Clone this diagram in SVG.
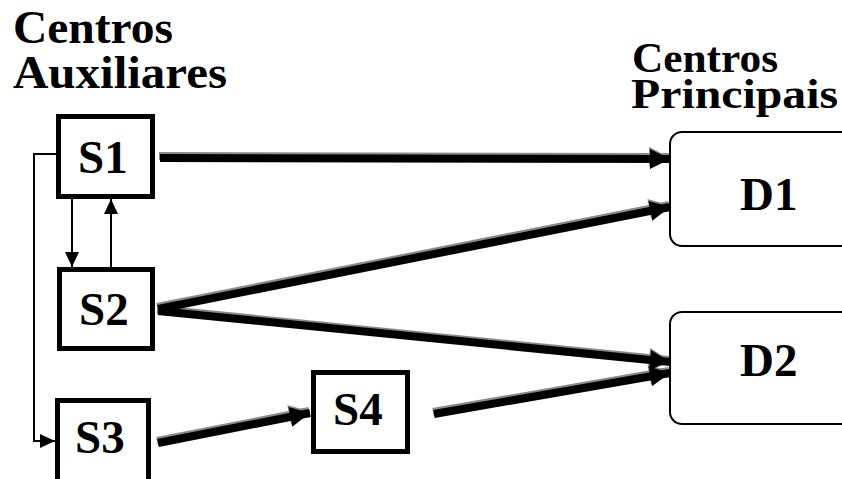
<svg xmlns="http://www.w3.org/2000/svg" width="842" height="479" viewBox="0 0 842 479">
  <style>
    .title { font-family: "Liberation Serif", "Times New Roman", serif; font-weight: bold; font-size: 46px; fill: #000; }
    .title.r { font-size: 43px; }
    .lbl { font-family: "Liberation Serif", "Times New Roman", serif; font-weight: bold; font-size: 47px; fill: #000; }
    .sbox { fill: #fff; stroke: #000; stroke-width: 5; }
    .dbox { fill: #fff; stroke: #000; stroke-width: 2; }
    .thin { fill: none; stroke: #000; stroke-width: 2; }
    .thick { fill: none; stroke: #000; stroke-width: 8; marker-end: url(#headBig); }
    .shadow { fill: none; stroke: #8a8a8a; stroke-width: 8; marker-end: url(#headShadow); }
  </style>
  <defs>
    <marker id="headBig" markerUnits="userSpaceOnUse" markerWidth="22" markerHeight="22" viewBox="0 0 22 22" refX="21" refY="11" orient="auto">
      <path d="M1,1 L21,11 L1,21 Z" fill="#000"/>
    </marker>
    <marker id="headShadow" markerUnits="userSpaceOnUse" markerWidth="22" markerHeight="22" viewBox="0 0 22 22" refX="21" refY="11" orient="auto">
      <path d="M1,1 L21,11 L1,21 Z" fill="#8a8a8a"/>
    </marker>
    <marker id="headSmall" markerUnits="userSpaceOnUse" markerWidth="16" markerHeight="14" viewBox="0 0 16 14" refX="15" refY="7" orient="auto">
      <path d="M0,0 L15,7 L0,14 Z" fill="#000"/>
    </marker>
  </defs>

  <!-- column headings -->
  <text class="title" x="13" y="43" textLength="160" lengthAdjust="spacingAndGlyphs">Centros</text>
  <text class="title" x="13" y="88" textLength="214" lengthAdjust="spacingAndGlyphs">Auxiliares</text>
  <text class="title r" x="632" y="72" textLength="146" lengthAdjust="spacingAndGlyphs">Centros</text>
  <text class="title r" x="631" y="108" textLength="207" lengthAdjust="spacingAndGlyphs">Principais</text>

  <!-- connectors -->
  <g id="connectors">
    <!-- feedback and loop links between auxiliary centres -->
    <path class="thin" d="M56,154 H34 V441 H40" />
    <line class="thin" x1="34" y1="441" x2="55" y2="441" marker-end="url(#headSmall)"/>
    <line class="thin" x1="72" y1="199" x2="72" y2="267" marker-end="url(#headSmall)"/>
    <line class="thin" x1="111" y1="267" x2="111" y2="199" marker-end="url(#headSmall)"/>

    <!-- shaded flow arrows: shadow first, then the black stroke -->
    <g transform="translate(-1,-2)">
      <line class="shadow" x1="160" y1="158" x2="670" y2="159"/>
      <line class="shadow" x1="158" y1="309" x2="670" y2="207"/>
      <line class="shadow" x1="158" y1="311" x2="670" y2="362"/>
      <line class="shadow" x1="158" y1="443" x2="310" y2="413"/>
      <line class="shadow" x1="434" y1="414" x2="670" y2="373"/>
    </g>
    <line class="thick" x1="160" y1="158" x2="670" y2="159"/>
    <line class="thick" x1="158" y1="309" x2="670" y2="207"/>
    <line class="thick" x1="158" y1="311" x2="670" y2="362"/>
    <line class="thick" x1="158" y1="443" x2="310" y2="413"/>
    <line class="thick" x1="434" y1="414" x2="670" y2="373"/>
  </g>

  <!-- auxiliary centres -->
  <g id="S1">
    <rect class="sbox" x="58.5" y="116.5" width="94" height="80"/>
    <text class="lbl" x="78" y="173">S1</text>
  </g>
  <g id="S2">
    <rect class="sbox" x="59.5" y="269.5" width="93" height="79"/>
    <text class="lbl" x="79" y="325">S2</text>
  </g>
  <g id="S3">
    <rect class="sbox" x="57.5" y="400.5" width="91" height="90"/>
    <text class="lbl" x="75" y="453">S3</text>
  </g>
  <g id="S4">
    <rect class="sbox" x="313.5" y="372.5" width="94" height="79"/>
    <text class="lbl" x="333" y="425">S4</text>
  </g>

  <!-- principal centres -->
  <g id="D1">
    <rect class="dbox" x="670" y="132" width="190" height="114" rx="12"/>
    <text class="lbl" x="740" y="210">D1</text>
  </g>
  <g id="D2">
    <rect class="dbox" x="670" y="312" width="190" height="112" rx="12"/>
    <text class="lbl" x="740" y="376">D2</text>
  </g>
</svg>
